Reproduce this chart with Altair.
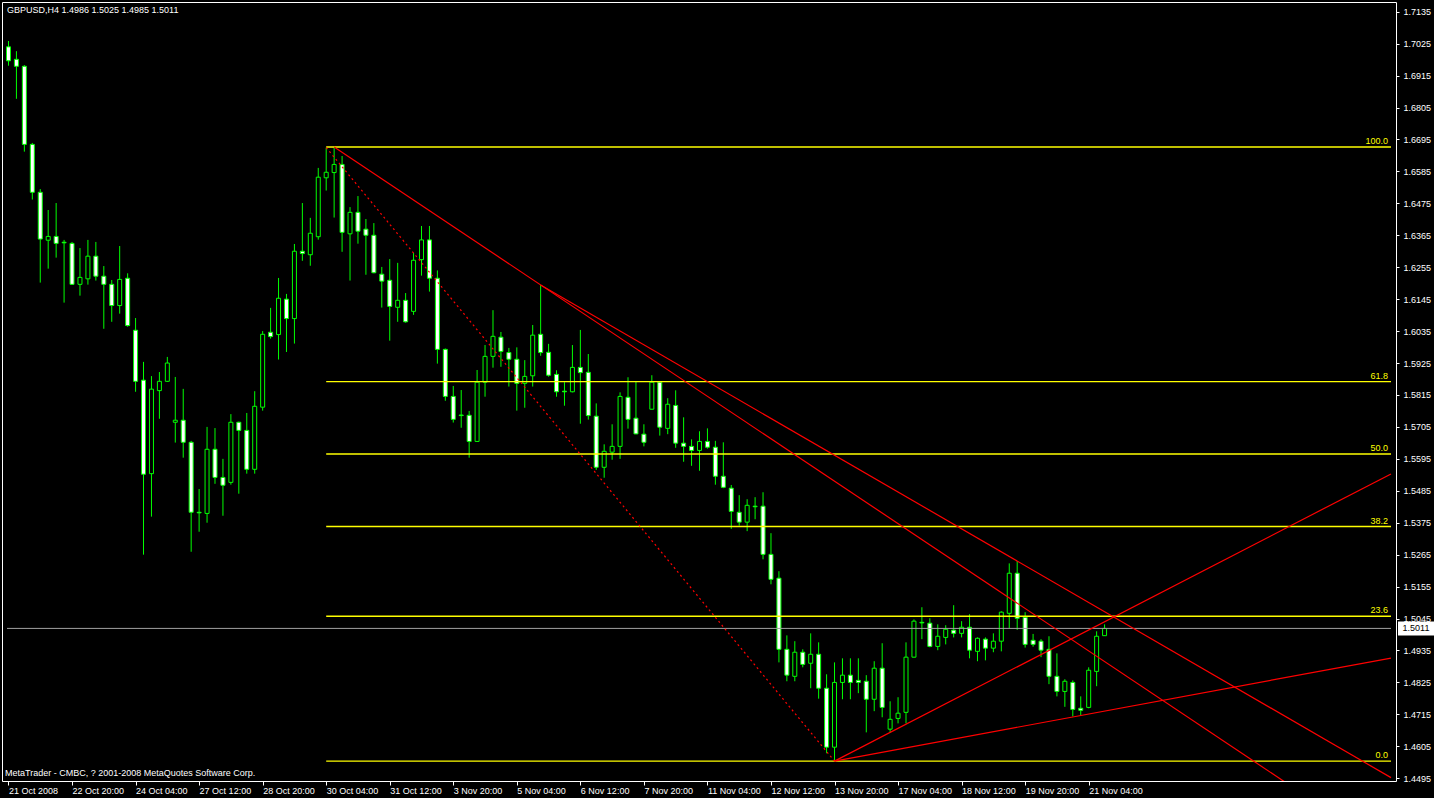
import json
import altair as alt
import pandas as pd

# ---- GBPUSD, H4 quotes (one entry per 4-hour bar) ----
open_ = [1.7014, 1.6971, 1.6947, 1.6678, 1.6513, 1.6348, 1.6361, 1.6341, 1.6337, 1.6196,
         1.6215, 1.6293, 1.6224, 1.6196, 1.6123, 1.6217, 1.6038, 1.5866, 1.5544, 1.5830,
         1.5862, 1.5721, 1.5728, 1.5652, 1.5411, 1.5407, 1.5628, 1.5531, 1.5514, 1.5721,
         1.5693, 1.5559, 1.5773, 1.6031, 1.6023, 1.6145, 1.6078, 1.6310, 1.6298, 1.6360,
         1.6563, 1.6581, 1.6609, 1.6370, 1.6444, 1.6386, 1.6365, 1.6231, 1.6210, 1.6117,
         1.6141, 1.6103, 1.6281, 1.6349, 1.6217, 1.5972, 1.5810, 1.5746, 1.5745, 1.5655,
         1.5859, 1.5948, 1.6014, 1.5961, 1.5938, 1.5855, 1.5881, 1.6024, 1.5962, 1.5886,
         1.5828, 1.5826, 1.5910, 1.5893, 1.5742, 1.5566, 1.5618, 1.5638, 1.5807, 1.5735,
         1.5680, 1.5766, 1.5859, 1.5700, 1.5779, 1.5649, 1.5638, 1.5624, 1.5655, 1.5635,
         1.5535, 1.5494, 1.5411, 1.5377, 1.5432, 1.5432, 1.5266, 1.5184, 1.4939, 1.4846,
         1.4929, 1.4891, 1.4922, 1.4805, 1.4602, 1.4825, 1.4850, 1.4832, 1.4829, 1.4767,
         1.4874, 1.4664, 1.4701, 1.4722, 1.4912, 1.5032, 1.5029, 1.4949, 1.4980, 1.5005,
         1.4994, 1.5015, 1.4932, 1.4974, 1.4943, 1.4967, 1.5063, 1.5201, 1.5049, 1.4970,
         1.4967, 1.4939, 1.4846, 1.4794, 1.4825, 1.4736, 1.4739, 1.4863, 1.4986]
high = [1.7034, 1.6999, 1.6951, 1.6683, 1.6524, 1.6452, 1.6476, 1.6349, 1.6342, 1.6321,
        1.6349, 1.6342, 1.6259, 1.6211, 1.6328, 1.6234, 1.6080, 1.5929, 1.5880, 1.5894,
        1.5946, 1.5877, 1.5836, 1.5657, 1.5491, 1.5705, 1.5701, 1.5595, 1.5749, 1.5723,
        1.5753, 1.5828, 1.6035, 1.6115, 1.6218, 1.6163, 1.6335, 1.6476, 1.6425, 1.6597,
        1.6667, 1.6669, 1.6638, 1.6462, 1.6500, 1.6421, 1.6407, 1.6256, 1.6283, 1.6270,
        1.6166, 1.6304, 1.6397, 1.6397, 1.6244, 1.5975, 1.5846, 1.5832, 1.5760, 1.5901,
        1.5987, 1.6107, 1.6032, 1.5977, 1.5979, 1.5935, 1.6056, 1.6194, 1.5991, 1.5900,
        1.5859, 1.5987, 1.6039, 1.5956, 1.5786, 1.5645, 1.5714, 1.5824, 1.5876, 1.5860,
        1.5714, 1.5883, 1.5861, 1.5804, 1.5831, 1.5738, 1.5662, 1.5690, 1.5700, 1.5657,
        1.5652, 1.5505, 1.5470, 1.5456, 1.5463, 1.5480, 1.5339, 1.5208, 1.4987, 1.4967,
        1.4939, 1.4994, 1.4963, 1.4853, 1.4894, 1.4908, 1.4908, 1.4908, 1.4850, 1.4898,
        1.4960, 1.4760, 1.4774, 1.4963, 1.5042, 1.5084, 1.5046, 1.5025, 1.5022, 1.5091,
        1.5036, 1.5060, 1.4980, 1.4980, 1.4994, 1.5070, 1.5235, 1.5243, 1.5067, 1.4992,
        1.4974, 1.4984, 1.4925, 1.4836, 1.4832, 1.4777, 1.4877, 1.5001, 1.5025]
low = [1.6949, 1.6835, 1.6653, 1.6488, 1.6202, 1.6250, 1.6288, 1.6133, 1.6194, 1.6157,
       1.6195, 1.6209, 1.6043, 1.6067, 1.6095, 1.6050, 1.5826, 1.5265, 1.5396, 1.5733,
       1.5860, 1.5651, 1.5599, 1.5275, 1.5344, 1.5375, 1.5509, 1.5399, 1.5506, 1.5475,
       1.5544, 1.5544, 1.5761, 1.6009, 1.5937, 1.5963, 1.5992, 1.6277, 1.6260, 1.6350,
       1.6519, 1.6426, 1.6308, 1.6209, 1.6336, 1.6229, 1.6234, 1.6116, 1.6002, 1.6067,
       1.6064, 1.6091, 1.6226, 1.6171, 1.5923, 1.5795, 1.5720, 1.5702, 1.5599, 1.5653,
       1.5809, 1.5909, 1.5912, 1.5844, 1.5761, 1.5771, 1.5844, 1.5950, 1.5878, 1.5809,
       1.5778, 1.5824, 1.5716, 1.5730, 1.5557, 1.5530, 1.5592, 1.5595, 1.5699, 1.5680,
       1.5638, 1.5765, 1.5675, 1.5680, 1.5633, 1.5585, 1.5571, 1.5554, 1.5630, 1.5506,
       1.5494, 1.5354, 1.5365, 1.5346, 1.5387, 1.5249, 1.5163, 1.4894, 1.4829, 1.4829,
       1.4877, 1.4805, 1.4769, 1.4581, 1.4554, 1.4767, 1.4767, 1.4788, 1.4653, 1.4726,
       1.4705, 1.4653, 1.4684, 1.4684, 1.4911, 1.4974, 1.4946, 1.4936, 1.4956, 1.4980,
       1.4980, 1.4908, 1.4898, 1.4901, 1.4929, 1.4932, 1.5012, 1.5006, 1.4945, 1.4948,
       1.4912, 1.4819, 1.4777, 1.4741, 1.4708, 1.4712, 1.4736, 1.4812, 1.4985]
close = [1.6966, 1.6947, 1.6678, 1.6513, 1.6352, 1.6361, 1.6337, 1.6339, 1.6196, 1.6220,
         1.6293, 1.6224, 1.6196, 1.6123, 1.6213, 1.6054, 1.5862, 1.5542, 1.5835, 1.5862,
         1.5925, 1.5728, 1.5652, 1.5411, 1.5409, 1.5628, 1.5531, 1.5504, 1.5721, 1.5693,
         1.5559, 1.5776, 1.6024, 1.6016, 1.6148, 1.6078, 1.6310, 1.6302, 1.6372, 1.6565,
         1.6582, 1.6609, 1.6375, 1.6444, 1.6379, 1.6365, 1.6236, 1.6207, 1.6120, 1.6141,
         1.6067, 1.6279, 1.6349, 1.6217, 1.5972, 1.5810, 1.5731, 1.5744, 1.5655, 1.5859,
         1.5948, 1.6017, 1.5965, 1.5938, 1.5855, 1.5879, 1.6021, 1.5961, 1.5883, 1.5826,
         1.5826, 1.5910, 1.5892, 1.5744, 1.5566, 1.5621, 1.5638, 1.5810, 1.5731, 1.5681,
         1.5652, 1.5859, 1.5704, 1.5783, 1.5649, 1.5638, 1.5624, 1.5655, 1.5635, 1.5535,
         1.5497, 1.5414, 1.5377, 1.5435, 1.5430, 1.5266, 1.5180, 1.4939, 1.4850, 1.4929,
         1.4887, 1.4922, 1.4805, 1.4602, 1.4825, 1.4850, 1.4825, 1.4825, 1.4767, 1.4874,
         1.4739, 1.4698, 1.4719, 1.4912, 1.5036, 1.5030, 1.4949, 1.4984, 1.5008, 1.4994,
         1.5015, 1.4936, 1.4977, 1.4943, 1.4967, 1.5067, 1.5201, 1.5046, 1.4956, 1.4956,
         1.4936, 1.4846, 1.4794, 1.4829, 1.4732, 1.4729, 1.4867, 1.4984, 1.5011]

# time axis: one label every 8 bars
tick_bars = list(range(0, 137, 8))
tick_labels = ["21 Oct 2008", "22 Oct 20:00", "24 Oct 04:00", "27 Oct 12:00",
               "28 Oct 20:00", "30 Oct 04:00", "31 Oct 12:00", "3 Nov 20:00",
               "5 Nov 04:00", "6 Nov 12:00", "7 Nov 20:00", "11 Nov 04:00",
               "12 Nov 12:00", "13 Nov 20:00", "17 Nov 04:00", "18 Nov 12:00",
               "19 Nov 20:00", "21 Nov 04:00"]
price_ticks = [1.4495, 1.4605, 1.4715, 1.4825, 1.4935, 1.5045, 1.5155, 1.5265,
               1.5375, 1.5485, 1.5595, 1.5705, 1.5815, 1.5925, 1.6035, 1.6145,
               1.6255, 1.6365, 1.6475, 1.6585, 1.6695, 1.6805, 1.6915, 1.7025, 1.7135]

# Fibonacci retracement from the 30 Oct high to the 13 Nov low
fib_high = 1.6669
fib_low = 1.4554
fib_start_bar = 40
fib_levels = [100.0, 61.8, 50.0, 38.2, 23.6, 0.0]

# trend lines: (bar1, price1, bar2, price2)
dotted_line = (40, 1.6667, 104, 1.4554)
rays = [
    (41, 1.6669, 67, 1.6194),
    (67, 1.6194, 127, 1.5243),
    (104, 1.4554, 138, 1.5034),
    (104, 1.4554, 135, 1.4711),
]

SYMBOL = "GBPUSD,H4"
COPYRIGHT = "MetaTrader - CMBC, ? 2001-2008 MetaQuotes Software Corp."

X_MIN, X_MAX = -0.1875, 174.0625
Y_MIN, Y_MAX = 1.44855, 1.71684
W, H = 1394, 779
FONT = "Liberation Sans"
GREEN = "#00ff00"
YELLOW = "#ffff00"
RED = "#ff0000"

candles = pd.DataFrame({
    "bar": list(range(len(open_))),
    "open": open_, "high": high, "low": low, "close": close,
})
candles["dir"] = ["up" if c > o else "down" for o, c in zip(open_, close)]

xs = alt.Scale(domain=[X_MIN, X_MAX], nice=False, zero=False)
ys = alt.Scale(domain=[Y_MIN, Y_MAX], nice=False, zero=False)

label_expr = json.dumps(tick_labels) + "[round(datum.value / 8)]"
x_axis = alt.Axis(values=tick_bars, labelExpr=label_expr, grid=False, domain=False,
                  tickColor="white", tickSize=4, labelColor="white", labelFont=FONT,
                  labelFontSize=9, labelAlign="left", labelPadding=1, labelOverlap=False,
                  labelFlush=False, title=None)
y_axis = alt.Axis(values=price_ticks, format=".4f", orient="right", grid=False,
                  domain=False, tickColor="white", tickSize=3, labelColor="white",
                  labelFont=FONT, labelFontSize=9, labelPadding=4, labelOverlap=False,
                  labelFlush=False, title=None)


def X(field):
    return alt.X(field, type="quantitative", scale=xs, axis=x_axis)


def Y(field):
    return alt.Y(field, type="quantitative", scale=ys, axis=y_axis)


base = alt.Chart(candles)

wicks = base.mark_rule(color=GREEN, strokeWidth=1).encode(
    x=X("bar"), y=Y("low"), y2="high:Q",
)

bodies = base.mark_bar(size=4, stroke=GREEN, strokeWidth=1).encode(
    x=X("bar"), y=Y("open"), y2="close:Q",
    fill=alt.Fill("dir:N", scale=alt.Scale(domain=["up", "down"],
                                           range=["#000000", "#ffffff"]), legend=None),
)

# current bid line
last = close[-1]
bid_df = pd.DataFrame({"x1": [X_MIN], "x2": [X_MAX], "price": [last],
                       "label": [f"{last:.4f}"]})
bid_line = alt.Chart(bid_df).mark_rule(color="#a0a0a0", strokeWidth=1).encode(
    x=X("x1"), x2="x2:Q", y=Y("price"),
)
box_shape = "M-1,-0.39H1V0.39H-1Z"
bid_box = alt.Chart(bid_df).mark_point(shape=box_shape, size=1296, filled=True,
                                       color="white", opacity=1).encode(
    x=alt.value(W + 20), y=Y("price"),
)
bid_text = alt.Chart(bid_df).mark_text(font=FONT, fontSize=9, color="black",
                                       align="center", baseline="middle").encode(
    x=alt.value(W + 20), y=Y("price"), text="label:N",
)

# Fibonacci levels
fib_df = pd.DataFrame({
    "level": fib_levels,
    "price": [fib_low + lv / 100.0 * (fib_high - fib_low) for lv in fib_levels],
    "x1": [fib_start_bar] * len(fib_levels),
    "x2": [X_MAX] * len(fib_levels),
})
fib_df["label"] = [f"{lv:.1f}" for lv in fib_levels]
fib_rules = alt.Chart(fib_df).mark_rule(color=YELLOW, strokeWidth=1.4).encode(
    x=X("x1"), x2="x2:Q", y=Y("price"),
)
fib_labels = alt.Chart(fib_df).mark_text(font=FONT, fontSize=9, color=YELLOW,
                                         align="right", baseline="bottom",
                                         dx=-3, dy=-1).encode(
    x=X("x2"), y=Y("price"), text="label:N",
)

# trend lines (rays are extended to the right edge)
b1, p1, b2, p2 = dotted_line
dotted_df = pd.DataFrame([{"line": "d", "bar": b1, "price": p1},
                          {"line": "d", "bar": b2, "price": p2}])
rows = []
for k, (b1, p1, b2, p2) in enumerate(rays):
    slope = (p2 - p1) / (b2 - b1)
    rows.append({"line": f"r{k}", "bar": b1, "price": p1})
    rows.append({"line": f"r{k}", "bar": X_MAX, "price": p1 + slope * (X_MAX - b1)})
rays_df = pd.DataFrame(rows)

dotted = alt.Chart(dotted_df).mark_line(color=RED, strokeWidth=1.2, strokeDash=[2, 3],
                                        clip=True).encode(
    x=X("bar"), y=Y("price"), detail="line:N",
)
solid = alt.Chart(rays_df).mark_line(color=RED, strokeWidth=1.2, clip=True).encode(
    x=X("bar"), y=Y("price"), detail="line:N",
)

# header with last bar OHLC, and the terminal's copyright line
hdr = f"{SYMBOL}  {open_[-1]:.4f} {high[-1]:.4f} {low[-1]:.4f} {close[-1]:.4f}"
header = alt.Chart(pd.DataFrame({"t": [hdr]})).mark_text(
    font=FONT, fontSize=9, color="white", align="left", baseline="middle").encode(
    x=alt.value(5), y=alt.value(8), text="t:N")
footer = alt.Chart(pd.DataFrame({"t": [COPYRIGHT]})).mark_text(
    font=FONT, fontSize=9, color="white", align="left", baseline="middle").encode(
    x=alt.value(3), y=alt.value(771), text="t:N")

chart = alt.layer(
    wicks, bodies, bid_line, fib_rules, fib_labels, dotted, solid,
    bid_box, bid_text, header, footer,
).properties(
    width=W, height=H, background="black",
    padding={"left": 2, "top": 2, "right": 38, "bottom": 17},
    autosize=alt.AutoSizeParams(type="none"),
).configure_view(stroke="white", strokeWidth=1)

chart.save("out.html", embed_options={"renderer": "svg", "actions": False})
